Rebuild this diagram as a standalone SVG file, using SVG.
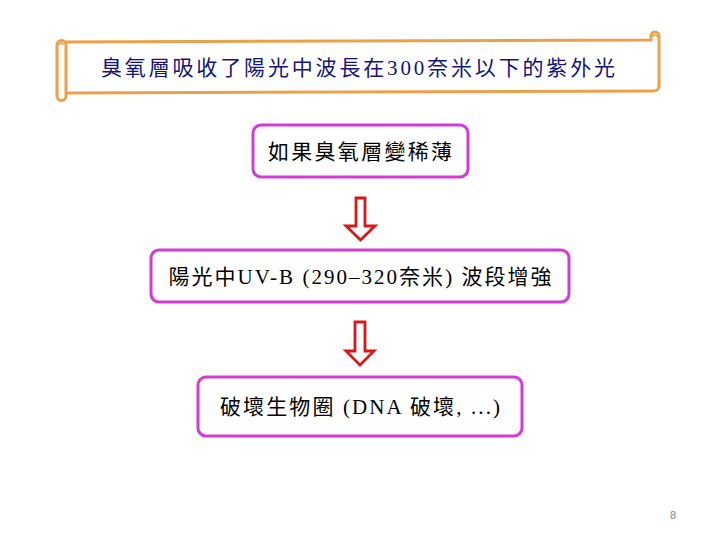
<svg xmlns="http://www.w3.org/2000/svg" width="720" height="540" viewBox="0 0 720 540">
<style>
.box{fill:#ffffff;stroke:#d63ad6;stroke-width:3}
.t{font-family:"Liberation Serif","Noto Sans CJK TC",serif;font-size:21px;fill:#000000;text-anchor:middle}
.arrow{fill:#ffffff;stroke:#d81818;stroke-width:2.8;stroke-linejoin:miter}
.scroll{fill:#ffffff;stroke:#eda04a;stroke-width:3;stroke-linejoin:round}
</style>
<rect width="720" height="540" fill="#ffffff"/>
<g id="title">
<path class="scroll" d="M62,42 L651,40 L651,36 A4,4 0 0 1 659,36 L659,86 A5,5 0 0 1 654,91 L66,93"/>
<path class="scroll" d="M57,45 A4.5,4.5 0 0 1 66,45 L66,96 A4.5,4.5 0 0 1 57,96 Z"/>
<path d="M59,45 A2,2 0 0 1 63,45" fill="none" stroke="#eda04a" stroke-width="1.5"/>
<path d="M653,37 A2,2 0 0 1 657,37" fill="none" stroke="#eda04a" stroke-width="1.5"/>
<text x="358" y="75" font-family="'Liberation Serif','Noto Sans CJK TC',serif" font-size="21" fill="#14147a" text-anchor="middle" textLength="514" lengthAdjust="spacing">臭氧層吸收了陽光中波長在300奈米以下的紫外光</text>
</g>
<g id="node1">
<rect class="box" x="253" y="125" width="215" height="52" rx="8"/>
<text class="t" x="360" y="159" textLength="184" lengthAdjust="spacing">如果臭氧層變稀薄</text>
</g>
<g id="node2">
<rect class="box" x="151" y="250" width="418" height="52" rx="8"/>
<text class="t" x="360" y="284" textLength="383" lengthAdjust="spacing">陽光中UV-B (290–320奈米) 波段增強</text>
</g>
<g id="node3">
<rect class="box" x="198" y="377" width="324" height="59" rx="8"/>
<text class="t" x="360" y="414" textLength="280" lengthAdjust="spacing">破壞生物圈 (DNA 破壞, ...)</text>
</g>
<g id="connectors">
<path class="arrow" d="M356,198 L365,198 L365,226 L375,226 L360.5,240 L346,226 L356,226 Z"/>
<path class="arrow" d="M355,322 L365,322 L365,351 L374,351 L360,365 L346,351 L355,351 Z"/>
</g>
<text x="673" y="519" font-family="'Liberation Sans',sans-serif" font-size="11" fill="#888888" text-anchor="middle">8</text>
</svg>
